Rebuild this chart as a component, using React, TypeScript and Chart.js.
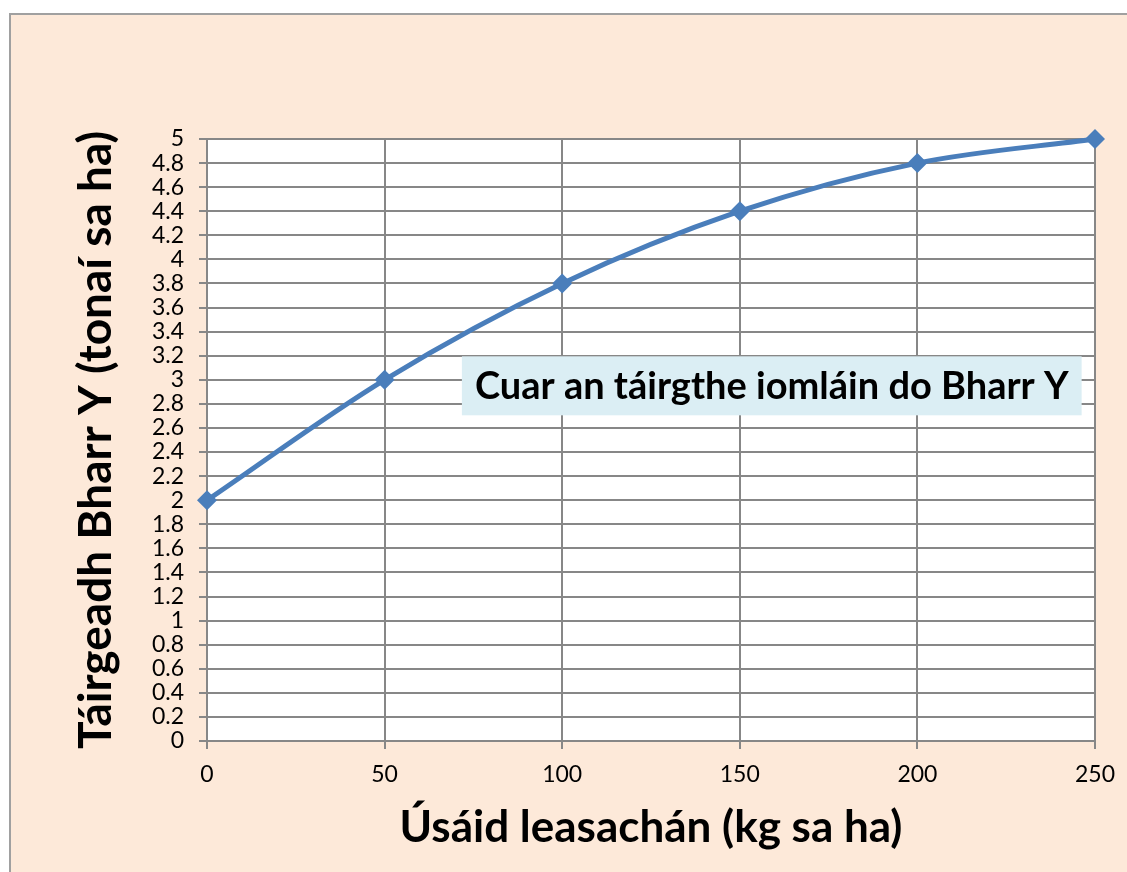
import React, { useEffect, useRef } from "react";
import { Chart, registerables } from "chart.js";

Chart.register(...registerables);

const xValues = [0, 50, 100, 150, 200, 250];
const yValues = [2, 3, 3.8, 4.4, 4.8, 5];
const xTitle = "Úsáid leasachán (kg sa ha)";
const yTitle = "Táirgeadh Bharr Y (tonaí sa ha)";
const annotationText = "Cuar an táirgthe iomláin do Bharr Y";
const annotationAt = { x: 159, y: 2.95 };

const FONT = "Lato, 'Open Sans', sans-serif";

const bgPlugin = {
  id: "bg",
  beforeDraw(chart: any) {
    const { ctx, width, height, chartArea } = chart;
    ctx.save();
    ctx.fillStyle = "#ffffff";
    ctx.fillRect(0, 0, width, height);
    ctx.fillStyle = "#FDE9D9";
    ctx.fillRect(9, 13, width - 9, height - 13);
    ctx.strokeStyle = "#A0A0A0";
    ctx.lineWidth = 2;
    ctx.beginPath();
    ctx.moveTo(10, height);
    ctx.lineTo(10, 14);
    ctx.lineTo(width, 14);
    ctx.stroke();
    ctx.fillStyle = "#ffffff";
    ctx.fillRect(chartArea.left, chartArea.top, chartArea.right - chartArea.left, chartArea.bottom - chartArea.top);
    ctx.restore();
  },
};

const annotationPlugin = {
  id: "annot",
  afterDraw(chart: any) {
    const { ctx } = chart;
    const xs = chart.scales.x;
    const ys = chart.scales.y;
    const cx = xs.getPixelForValue(annotationAt.x);
    const cy = ys.getPixelForValue(annotationAt.y);
    ctx.save();
    ctx.font = `bold 38px ${FONT}`;
    const w = ctx.measureText(annotationText).width;
    const padX = 13;
    const h = 59;
    ctx.fillStyle = "#DBEEF4";
    ctx.fillRect(cx - w / 2 - padX, cy - h / 2, w + padX * 2, h);
    ctx.fillStyle = "#000000";
    ctx.textAlign = "center";
    ctx.textBaseline = "middle";
    ctx.fillText(annotationText, cx, cy + 1);
    ctx.restore();
  },
};

export default function App() {
  const ref = useRef<HTMLCanvasElement | null>(null);
  useEffect(() => {
    if (!ref.current) return;
    const chart = new Chart(ref.current, {
      type: "line",
      data: {
        datasets: [
          {
            data: xValues.map((x, i) => ({ x, y: yValues[i] })),
            borderColor: "#4A7EBB",
            backgroundColor: "#4A7EBB",
            borderWidth: 5,
            pointStyle: "rectRot",
            pointRadius: 10,
            pointBorderWidth: 0,
            tension: 0.4,
            cubicInterpolationMode: "monotone",
            fill: false,
            clip: false as any,
          },
        ],
      },
      options: {
        animation: false,
        responsive: false,
        events: [],
        layout: { padding: { left: 0, top: 139, right: 27, bottom: 0 } },
        plugins: { legend: { display: false }, tooltip: { enabled: false } },
        scales: {
          x: {
            type: "linear",
            min: 0,
            max: 250,
            afterFit(scale: any) {
              scale.height = 131;
            },
            ticks: {
              stepSize: 50,
              padding: 12,
              color: "#000",
              font: { family: FONT, size: 23 },
              maxRotation: 0,
              autoSkip: false,
            },
            grid: { color: "#878787", lineWidth: 2, tickLength: 8 },
            border: { color: "#878787", width: 2 },
            title: {
              display: true,
              text: xTitle,
              color: "#000",
              font: { family: FONT, size: 44, weight: "bold" },
              padding: { bottom: 18, top: 0 },
            },
          },
          y: {
            type: "linear",
            min: 0,
            max: 5,
            afterFit(scale: any) {
              scale.width = 207;
            },
            ticks: {
              stepSize: 0.2,
              padding: 15,
              color: "#000",
              font: { family: FONT, size: 23 },
              autoSkip: false,
              callback: (v: any) => String(Math.round(Number(v) * 10) / 10),
            },
            grid: { color: "#878787", lineWidth: 2, tickLength: 8 },
            border: { color: "#878787", width: 2 },
            title: {
              display: true,
              text: yTitle,
              color: "#000",
              font: { family: FONT, size: 46, weight: "bold" },
              padding: { top: 69, bottom: 0 },
            },
          },
        },
      },
      plugins: [bgPlugin, annotationPlugin],
    } as any);
    return () => chart.destroy();
  }, []);
  return (
    <div style={{ position: "absolute", left: 0, top: 0, width: 1127, height: 872 }}>
      <canvas ref={ref} width={1127} height={872} style={{ display: "block" }} />
    </div>
  );
}
